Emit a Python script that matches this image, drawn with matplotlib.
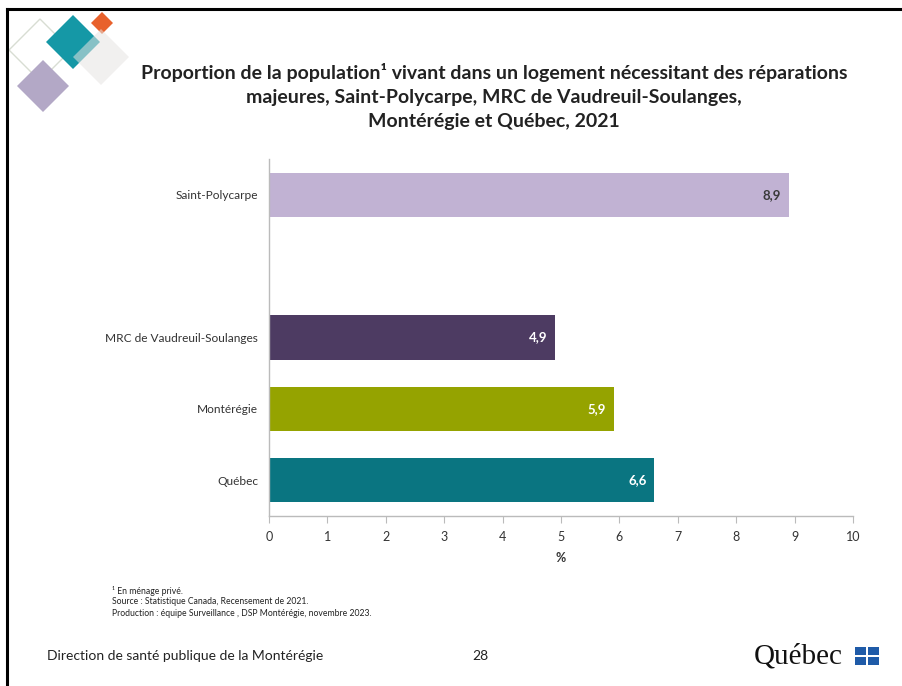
import matplotlib
matplotlib.use("Agg")
import matplotlib.pyplot as plt
from matplotlib.patches import Polygon, Rectangle
import numpy as np

plt.rcParams['font.family'] = ['Lato', 'DejaVu Sans']

# data
categories = ["Saint-Polycarpe", "", "MRC de Vaudreuil-Soulanges", "Montérégie", "Québec"]
values = [8.9, np.nan, 4.9, 5.9, 6.6]
bar_colors = ["#C1B2D3", "#FFFFFF", "#4D3B62", "#95A300", "#0A7581"]
label_colors = ["#3A3A3A", "#FFFFFF", "#FFFFFF", "#FFFFFF", "#FFFFFF"]
ticks = list(range(0, 11))

title = ("Proportion de la population¹ vivant dans un logement nécessitant des réparations\n"
         "majeures, Saint-Polycarpe, MRC de Vaudreuil-Soulanges,\n"
         "Montérégie et Québec, 2021")
notes = ["¹ En ménage privé.",
         "Source : Statistique Canada, Recensement de 2021.",
         "Production : équipe Surveillance , DSP Montérégie, novembre 2023."]

W, H = 902, 686
fig = plt.figure(figsize=(W / 100, H / 100), dpi=100)

def fx(px):
    return px / W

def fy(py):
    return 1 - py / H

# slide frame
fig.add_artist(plt.Line2D([fx(7), fx(7)], [fy(9), fy(686)], color="black", lw=2.2))
fig.add_artist(plt.Line2D([fx(7), fx(902)], [fy(9), fy(9)], color="black", lw=2.2))

# decorative diamonds top-left
def diamond(cx, cy, r, **kw):
    pts = [(fx(cx), fy(cy - r)), (fx(cx + r), fy(cy)), (fx(cx), fy(cy + r)), (fx(cx - r), fy(cy))]
    fig.add_artist(Polygon(pts, closed=True, transform=fig.transFigure, **kw))

diamond(40, 50, 31, facecolor="none", edgecolor="#D8DDD3", lw=1)
diamond(73, 42, 27, facecolor="#1598A6", edgecolor="none")
diamond(102, 23, 11, facecolor="#E8612C", edgecolor="none")
diamond(101, 57, 28, facecolor="#E6E4E2", edgecolor="none", alpha=0.55)
diamond(43, 86, 26, facecolor="#B3A8C6", edgecolor="none")

fig.text(0.548, fy(96), title, ha="center", va="center", fontsize=14,
         fontweight="bold", color="#222222", linespacing=1.5)

# chart
ax = fig.add_axes([fx(269), fy(516), fx(853) - fx(269), (516 - 159) / H])
y = np.arange(len(categories))[::-1]
ax.barh(y, values, height=0.62, color=bar_colors)
for yi, v, c in zip(y, values, label_colors):
    if np.isnan(v):
        continue
    ax.text(v - 0.13, yi, f"{v:.1f}".replace(".", ","), ha="right", va="center",
            fontsize=9.5, fontweight="bold", color=c)

ax.set_xlim(0, 10)
ax.set_ylim(-0.5, len(categories) - 0.5)
ax.set_xticks(ticks)
ax.set_xticklabels([str(t) for t in ticks], fontsize=9, color="#333333")
ax.set_yticks(y)
ax.set_yticklabels(categories, fontsize=8.6, color="#333333")
ax.tick_params(axis="y", length=0, pad=8)
ax.tick_params(axis="x", length=5, color="#BBBBBB", pad=6)
ax.set_xlabel("%", fontsize=9, fontweight="bold", color="#333333", labelpad=6)
for s in ["top", "right"]:
    ax.spines[s].set_visible(False)
for s in ["left", "bottom"]:
    ax.spines[s].set_color("#BBBBBB")
    ax.spines[s].set_linewidth(1)

# footnotes
for i, n in enumerate(notes):
    fig.text(fx(112), fy(591 + 11 * i), n, fontsize=6.2, color="#222222", va="center")

# footer
fig.text(fx(47), fy(656), "Direction de santé publique de la Montérégie", fontsize=10,
         color="#222222", va="center")
fig.text(fx(480), fy(656), "28", fontsize=10, color="#222222", va="center", ha="center")
fig.text(fx(754), fy(657), "Québec", fontsize=21, family="Liberation Serif",
         color="#111111", va="center")
for dx, dy in [(0, 0), (13, 0), (0, 10), (13, 10)]:
    fig.add_artist(Rectangle((fx(855 + dx), fy(647 + dy) - 8 / H), 11 / W, 8 / H,
                             transform=fig.transFigure, facecolor="#1F5BA8", edgecolor="none"))

fig.savefig("out.png", dpi=100)
